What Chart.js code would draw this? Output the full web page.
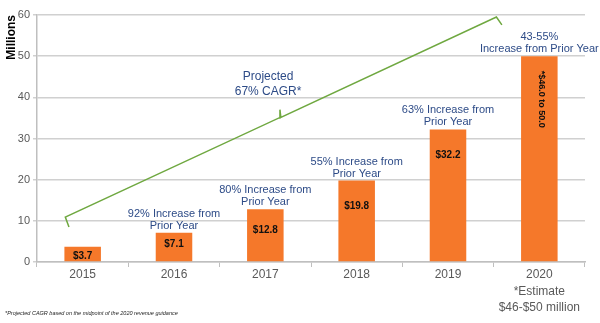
<!DOCTYPE html>
<html>
<head>
<meta charset="utf-8">
<script src="https://cdn.jsdelivr.net/npm/chart.js@4"></script>
<style>
  html, body { margin: 0; padding: 0; background: #fff; }
  #wrap { width: 600px; height: 323px; position: relative; }
</style>
</head>
<body>
<div id="wrap"><canvas id="chart" width="600" height="323"></canvas></div>
<script>
const years = ['2015', '2016', '2017', '2018', '2019', ['2020', '*Estimate', '$46-$50 million']];
const revenue = [3.7, 7.1, 12.8, 19.8, 32.2, 50.0];
const valueLabels = ['$3.7', '$7.1', '$12.8', '$19.8', '$32.2', '*$46.0 to 50.0'];
const growthLabels = [
  [],
  ['92% Increase from', 'Prior Year'],
  ['80% Increase from', 'Prior Year'],
  ['55% Increase from', 'Prior Year'],
  ['63% Increase from', 'Prior Year'],
  ['43-55%', 'Increase from Prior Year']
];
// projected CAGR bracket, in (category index, millions)
const cagrX = [-0.15, -0.19, 2.15, 2.16, 2.17, 4.53, 4.59];
const cagrY = [8.5, 10.9, 35.0, 37.0, 35.1, 59.5, 57.6];
const cagrText = ['Projected', '67% CAGR*'];
const footnote = '*Projected CAGR based on the midpoint of the 2020 revenue guidance';

const blue = '#2d4b87';

const annotations = {
  id: 'annotations',
  afterDatasetsDraw(chart) {
    const ctx = chart.ctx;
    const xs = chart.scales.x, ys = chart.scales.y, xl = chart.scales.xl;
    const base = ys.getPixelForValue(0);
    ctx.save();
    ctx.textAlign = 'center';
    ctx.textBaseline = 'middle';
    revenue.forEach((v, i) => {
      const cx = xs.getPixelForValue(i);
      const top = ys.getPixelForValue(v);
      // value inside bar
      ctx.fillStyle = '#111';
      ctx.font = 'bold 10px "Liberation Sans", Arial, sans-serif';
      if (i === revenue.length - 1) {
        ctx.save();
        ctx.font = 'bold 9px "Liberation Sans", Arial, sans-serif';
        ctx.translate(cx + 2, top + 43);
        ctx.rotate(Math.PI / 2);
        ctx.fillText(valueLabels[i], 0, 0);
        ctx.restore();
      } else {
        const off = Math.min(26, Math.max(9, (base - top) * 0.4));
        ctx.fillText(valueLabels[i], cx, top + off);
      }
      // growth text above bar
      ctx.fillStyle = blue;
      ctx.font = '11px "Liberation Sans", Arial, sans-serif';
      const lines = growthLabels[i];
      lines.forEach((t, k) => {
        ctx.fillText(t, cx, top - 7 - (lines.length - 1 - k) * 12);
      });
    });
    // CAGR label
    ctx.fillStyle = blue;
    ctx.font = '12px "Liberation Sans", Arial, sans-serif';
    const lx = xl.getPixelForValue(2.03);
    ctx.fillText(cagrText[0], lx, ys.getPixelForValue(45.0));
    ctx.fillText(cagrText[1], lx, ys.getPixelForValue(41.3));
    // footnote
    ctx.fillStyle = '#222';
    ctx.textAlign = 'left';
    ctx.font = 'italic 5.5px "Liberation Sans", Arial, sans-serif';
    ctx.fillText(footnote, 5, 313);
    ctx.restore();
  }
};

new Chart(document.getElementById('chart'), {
  type: 'bar',
  data: {
    labels: years,
    datasets: [{
      type: 'line',
      data: cagrX.map((x, i) => ({ x: x, y: cagrY[i] })),
      xAxisID: 'xl',
      borderColor: '#6fa840',
      borderWidth: 1.5,
      pointRadius: 0,
      tension: 0,
      order: 0
    }, {
      data: revenue,
      backgroundColor: '#f5782a',
      grouped: false,
      categoryPercentage: 1,
      barPercentage: 0.4,
      order: 1
    }]
  },
  options: {
    responsive: false,
    animation: false,
    devicePixelRatio: 1,
    layout: { padding: { top: 15, right: 15, left: 0, bottom: 0 } },
    plugins: { legend: { display: false }, tooltip: { enabled: false } },
    scales: {
      x: {
        offset: true,
        grid: { drawOnChartArea: false, drawTicks: true, tickLength: 5, color: '#bfbfbf', offset: true },
        border: { color: '#bfbfbf', width: 1.5 },
        ticks: {
          color: '#595959',
          padding: 0,
          maxRotation: 0,
          font: { family: '"Liberation Sans", Arial, sans-serif', size: 12, lineHeight: 1.35 }
        },
        afterFit(scale) { scale.height = 61; }
      },
      xl: {
        type: 'linear',
        display: false,
        offset: false,
        min: -0.5,
        max: 5.5
      },
      y: {
        min: 0,
        max: 60,
        ticks: {
          stepSize: 10,
          color: '#595959',
          padding: 3,
          font: { family: '"Liberation Sans", Arial, sans-serif', size: 11 }
        },
        grid: { color: '#d0d0d0', lineWidth: 1.5, tickLength: 4 },
        border: { color: '#bfbfbf', width: 1.5 },
        title: {
          display: true,
          text: 'Millions',
          align: 'end',
          color: '#000',
          padding: { top: 4, bottom: 0 },
          font: { family: '"Liberation Sans", Arial, sans-serif', size: 12, weight: 'bold' }
        },
        afterFit(scale) { scale.width = 37; }
      }
    }
  },
  plugins: [annotations]
});
</script>
</body>
</html>
